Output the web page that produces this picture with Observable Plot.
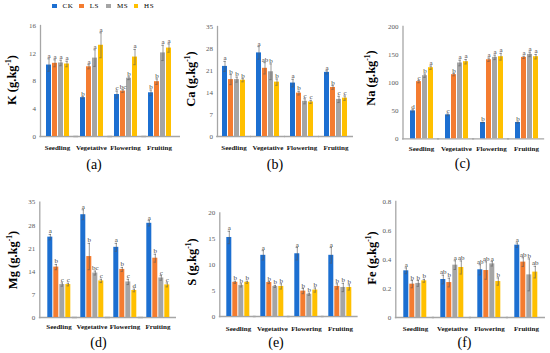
<!DOCTYPE html>
<html><head><meta charset="utf-8">
<script src="https://cdn.jsdelivr.net/npm/d3@7"></script>
<script src="https://cdn.jsdelivr.net/npm/@observablehq/plot@0.6"></script>
<style>
body{margin:0;background:#fff;}
#fig{position:relative;width:550px;height:353px;font-family:"Liberation Serif","Times New Roman",serif;color:#000;overflow:hidden;}
.panel{position:absolute;}
.ytitle{position:absolute;font-weight:bold;font-size:12.5px;white-space:nowrap;transform:translate(-50%,-50%) rotate(-90deg);line-height:1;}
.ytitle sup{font-size:0.6em;vertical-align:0.6em;line-height:0;}
.plabel{position:absolute;font-size:14px;transform:translate(-50%,-50%);line-height:1;}
#legend{position:absolute;left:52px;top:2px;display:flex;font-size:7px;letter-spacing:0.6px;}
#legend .item{width:27.2px;display:flex;align-items:center;}
#legend .sw{width:4.5px;height:4.5px;margin-right:6px;}
</style>
</head><body>
<div id="fig"><div id="legend"></div></div>
<script>
const stages = ["Seedling","Vegetative","Flowering","Fruiting"];
const treatments = ["CK","LS","MS","HS"];
const colors = ["#1c6fd1","#f47c30","#a5a5a5","#ffc000"];

// K
const kMean = [[10.3,10.55,10.6,10.45],[5.6,10.05,11.3,13.15],[6.05,6.55,8.4,11.45],[6.3,7.9,12.05,12.75]];
const kErr  = [[0.9,0.5,0.4,0.4],[0.15,0.3,1.2,1.8],[0.5,0.2,0.2,1.1],[0.4,0.4,1.1,0.6]];
const kSig  = [["a","a","a","a"],["b","a","a","a"],["c","bc","b","a"],["b","b","a","a"]];
// Ca
const caMean = [[22.3,18.1,18.1,17.9],[26.6,21.7,20.6,17.3],[17.0,13.8,11.2,11.0],[20.4,15.6,11.8,12.2]];
const caErr  = [[1.6,1.6,0.8,0.5],[2.0,1.8,2.5,1.0],[1.2,0.6,0.8,0.5],[0.5,0.6,1.0,0.7]];
const caSig  = [["a","b","b","b"],["a","ab","b","b"],["a","b","c","c"],["a","b","c","c"]];
// Na
const naMean = [[49.7,101.8,112.4,126.6],[42.6,114.2,135,137.3],[29,140.8,145,146.2],[29,145,150.3,146.2]];
const naErr  = [[2,2,3,3],[1.5,2,5,4],[0.5,3,4,6],[1,2,4,4]];
const naSig  = [["d","c","b","a"],["c","b","a","a"],["b","a","a","a"],["b","a","a","a"]];
// Mg
const mgMean = [[24.4,15.3,10.0,10.0],[31.2,18.5,13.5,11.1],[21.3,14.6,10.8,8.2],[28.6,18.0,12.0,9.9]];
const mgErr  = [[0.8,0.8,0.5,0.4],[1.5,4,0.6,0.5],[1.2,0.6,0.8,0.4],[0.8,1.2,0.7,0.6]];
const mgSig  = [["a","b","c","c"],["a","b","bc","c"],["a","b","c","d"],["a","b","c","c"]];
// S
const sMean = [[15.24,6.6,6.0,6.6],[11.8,6.55,5.8,5.8],[12.1,4.9,4.3,5.1],[11.8,5.8,5.6,5.6]];
const sErr  = [[1.2,0.2,0.3,0.2],[0.9,0.2,0.2,0.5],[1.2,0.5,0.2,0.4],[1.5,0.5,0.8,0.5]];
const sSig  = [["a","b","b","b"],["a","b","b","b"],["a","b","b","b"],["a","b","b","b"]];
// Fe
const feMean = [[0.322,0.23,0.235,0.253],[0.262,0.241,0.361,0.345],[0.329,0.324,0.37,0.248],[0.499,0.382,0.294,0.313]];
const feErr  = [[0.02,0.025,0.02,0.01],[0.03,0.03,0.03,0.045],[0.035,0.06,0.015,0.025],[0.015,0.03,0.11,0.04]];
const feSig  = [["a","b","b","b"],["ab","b","a","ab"],["ab","ab","a","b"],["a","ab","b","ab"]];

const kTicks = [0,4,8,12,16];
const caTicks = [0,7,14,21,28,35];
const naTicks = [0,50,100,150,200];
const mgTicks = [0,7,14,21,28,35];
const sTicks = [0,5,10,15,20];
const feTicks = [0,0.2,0.4,0.6,0.8];

const panels = [
  {el:"K", mean:kMean, err:kErr, sig:kSig, ticks:kTicks, tag:"(a)",
   left:0, top:0, width:183, height:156, axis:39, g0:44, gEnd:171, pi:0.3, yTop:25, y0:136, xEnd:180, catPad:8.5,
   title:[12,80], lab:[94,165]},
  {el:"Ca", mean:caMean, err:caErr, sig:caSig, ticks:caTicks, tag:"(b)",
   left:183, top:0, width:179, height:156, axis:216, g0:221, gEnd:349, pi:0.31, yTop:26, y0:136, xEnd:355, catPad:8.2,
   title:[191,79], lab:[275,165]},
  {el:"Na", mean:naMean, err:naErr, sig:naSig, ticks:naTicks, tag:"(c)",
   left:362, top:0, width:188, height:156, axis:401.5, g0:408, gEnd:538, pi:0.32, yTop:26, y0:138.3, xEnd:541.7, catPad:7.5,
   title:[371,78], lab:[462.5,164]},
  {el:"Mg", mean:mgMean, err:mgErr, sig:mgSig, ticks:mgTicks, tag:"(d)",
   left:0, top:180, width:183, height:156, axis:39, g0:45.7, gEnd:170.7, pi:0.25, yTop:201.7, y0:317, xEnd:176.7, catPad:6.5,
   title:[12.5,260], lab:[98.5,343]},
  {el:"S", mean:sMean, err:sErr, sig:sSig, ticks:sTicks, tag:"(e)",
   left:183, top:180, width:179, height:156, axis:219, g0:225.7, gEnd:352, pi:0.3, yTop:212.3, y0:316, xEnd:356.7, catPad:9.2,
   title:[192,262], lab:[276,343]},
  {el:"Fe", mean:feMean, err:feErr, sig:feSig, ticks:feTicks, tag:"(f)", fmt: d => d === 0 ? "0" : d.toFixed(1),
   left:362, top:180, width:188, height:156, axis:394, g0:401.7, gEnd:539, pi:0.345, yTop:201, y0:317, xEnd:541.7, catPad:8.8,
   title:[372,258], lab:[464.5,343]}
];

const fig = document.getElementById("fig");
const serif = '"Liberation Serif","Times New Roman",serif';
const axisColor = "#a6a6a6";

for (const p of panels) {
  const data = [];
  stages.forEach((s, i) => treatments.forEach((t, j) =>
    data.push({stage: s, trt: t, v: p.mean[i][j], e: p.err[i][j], sig: p.sig[i][j]})));
  const mL = p.g0 - p.left, mR = p.left + p.width - p.gEnd;
  const mT = p.yTop - p.top, mB = p.top + p.height - p.y0;
  const lg = p.g0 - p.axis;
  const step = (p.gEnd - p.g0) / (4 - p.pi);
  const halfGap = p.pi * step / 2;
  const chart = Plot.plot({
    width: p.width, height: p.height,
    marginLeft: mL, marginRight: mR, marginTop: mT, marginBottom: mB,
    style: {fontFamily: serif, background: "transparent", overflow: "visible"},
    fx: {domain: stages, paddingInner: p.pi, paddingOuter: 0, label: null},
    x: {domain: treatments, paddingInner: 0.17, paddingOuter: 0, axis: null},
    y: {domain: [p.ticks[0], p.ticks[p.ticks.length - 1]], label: null},
    color: {domain: treatments, range: colors},
    marks: [
      Plot.ruleY([0], {stroke: axisColor, strokeWidth: 1.3,
        insetLeft: -Math.max(lg, halfGap) - 0.5, insetRight: -Math.max(p.xEnd - p.gEnd, halfGap + 0.5)}),
      Plot.frame({anchor: "left", facetAnchor: "left", insetLeft: -lg, stroke: axisColor, strokeWidth: 1.3}),
      Plot.axisY({ticks: p.ticks, tickSize: 0, tickPadding: lg + 4.5, fontSize: 7, fill: "#595959",
        label: null, tickFormat: p.fmt || (d => String(d))}),
      Plot.axisFx({anchor: "bottom", tickSize: 0, tickPadding: p.catPad, label: null,
        fontSize: 7, fontWeight: "bold", fill: "#111"}),
      Plot.barY(data, {fx: "stage", x: "trt", y: "v", fill: "trt"}),
      Plot.ruleX(data, {fx: "stage", x: "trt", y1: d => d.v - d.e, y2: d => d.v + d.e, stroke: "#555", strokeWidth: 0.6}),
      Plot.tickY(data, {fx: "stage", x: "trt", y: d => d.v + d.e, stroke: "#555", strokeWidth: 0.6, insetLeft: 1.3, insetRight: 1.3}),
      Plot.tickY(data, {fx: "stage", x: "trt", y: d => d.v - d.e, stroke: "#555", strokeWidth: 0.6, insetLeft: 1.3, insetRight: 1.3}),
      Plot.text(data, {fx: "stage", x: "trt", y: d => d.v + d.e, text: "sig", lineAnchor: "bottom", dy: -1,
        fontSize: 7, fill: "#404040"})
    ]
  });
  chart.classList.add("panel");
  chart.style.left = p.left + "px";
  chart.style.top = p.top + "px";
  fig.appendChild(chart);

  const t = document.createElement("div");
  t.className = "ytitle";
  t.innerHTML = p.el + " (g.kg<sup>-1</sup>)";
  t.style.left = p.title[0] + "px";
  t.style.top = p.title[1] + "px";
  fig.appendChild(t);

  const l = document.createElement("div");
  l.className = "plabel";
  l.textContent = p.tag;
  l.style.left = p.lab[0] + "px";
  l.style.top = p.lab[1] + "px";
  fig.appendChild(l);
}

const legend = document.getElementById("legend");
treatments.forEach((t, i) => {
  const it = document.createElement("div");
  it.className = "item";
  it.innerHTML = `<span class="sw" style="background:${colors[i]}"></span><span>${t}</span>`;
  legend.appendChild(it);
});
</script>
</body></html>
